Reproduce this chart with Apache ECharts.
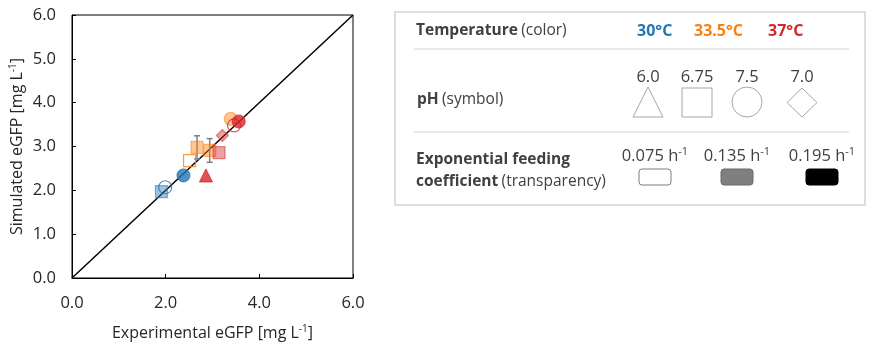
<!DOCTYPE html>
<html>
<head>
<meta charset="utf-8">
<script src="https://cdn.jsdelivr.net/npm/echarts@6/dist/echarts.min.js"></script>
<style>
  html, body { margin: 0; padding: 0; background: #fff; }
  #chart { width: 873px; height: 354px; }
</style>
</head>
<body>
<div id="chart"></div>
<script>
// data
const expX  = [1.99, 1.91, 2.38, 2.51, 2.67, 2.94, 3.14, 2.86, 3.21, 3.39, 3.46, 3.56];
const simY  = [2.07, 1.97, 2.34, 2.68, 2.98, 2.91, 2.86, 2.34, 3.25, 3.63, 3.48, 3.57];
const temps = ['30', '30', '30', '33.5', '33.5', '33.5', '37', '37', '37', '33.5', '37', '37'];
const pHs   = ['7.5', '6.75', '7.5', '6.75', '6.75', '6.75', '6.75', '6.0', '7.0', '7.5', '7.5', '7.5'];
const feeds = ['0.075', '0.135', '0.195', '0.075', '0.135', '0.135', '0.135', '0.195', '0.135', '0.135', '0.075', '0.195'];
const errs  = [null, null, null, null, 0.265, 0.27, null, null, null, null, null, null];

const xTicks = [0, 2, 4, 6];
const yTicks = [0, 1, 2, 3, 4, 5, 6];

const tempLabels = ['30°C', '33.5°C', '37°C'];
const phLabels = ['6.0', '6.75', '7.5', '7.0'];
const feedLabels = ['0.075', '0.135', '0.195'];

const tempColor = { '30': '#1f77b4', '33.5': '#ff7f0e', '37': '#d62728' };
const phSymbol = { '6.0': 'triangle', '6.75': 'rect', '7.5': 'circle', '7.0': 'diamond' };
const phSize = { '6.0': 13, '6.75': 12, '7.5': 13, '7.0': 12 };

const FONT = '"Open Sans", sans-serif';
const TXT = '#404040';
const AX = '#262626';

function fade(hex, a) {
    const n = parseInt(hex.slice(1), 16);
    return `rgba(${n >> 16},${(n >> 8) & 255},${n & 255},${a})`;
}

const points = expX.map((x, i) => {
    const c = tempColor[temps[i]];
    let style;
    if (feeds[i] === '0.075') style = { color: 'rgba(255,255,255,0)', borderColor: c, borderWidth: 1.2 };
    else if (feeds[i] === '0.135') style = { color: fade(c, 0.55), borderColor: fade(c, 0.65), borderWidth: 1.2 };
    else style = { color: c, borderColor: c, borderWidth: 1 };
    return {
        value: [x, simY[i]],
        symbol: phSymbol[pHs[i]],
        symbolSize: phSize[pHs[i]],
        itemStyle: style
    };
});

const errData = [];
errs.forEach((e, i) => { if (e != null) errData.push([expX[i], simY[i] - e, simY[i] + e]); });

const supRich = {
    n: { fontFamily: FONT, fontSize: 16, color: AX },
    s: { fontFamily: FONT, fontSize: 10, color: AX, padding: [0, 0, 8, 0] }
};

// legend box
const LX = 416;
const LF = 15.5;
const g = [];
g.push({ type: 'rect', shape: { x: 395, y: 12, width: 470, height: 193 }, style: { fill: '#fff', stroke: '#d4d4d4', lineWidth: 1.5 } });
g.push({ type: 'line', shape: { x1: 414, y1: 49, x2: 849, y2: 49 }, style: { stroke: '#d4d4d4', lineWidth: 1.2 } });
g.push({ type: 'line', shape: { x1: 414, y1: 132, x2: 849, y2: 132 }, style: { stroke: '#d4d4d4', lineWidth: 1.2 } });
const lr = {
    b: { fontFamily: FONT, fontSize: LF, fontWeight: 'bold', fill: TXT },
    n: { fontFamily: FONT, fontSize: LF, fill: TXT }
};
g.push({ type: 'text', x: LX, y: 31, style: { text: '{b|Temperature} {n|(color)}', verticalAlign: 'middle', rich: lr } });
const tempX = [637, 694, 768];
tempLabels.forEach((t, i) => {
    g.push({ type: 'text', x: tempX[i], y: 31, style: { text: t, fill: tempColor[temps[[0, 3, 6][i]]], font: 'bold 16px ' + FONT, verticalAlign: 'middle' } });
});
g.push({ type: 'text', x: LX + 1, y: 100, style: { text: '{b|pH} {n|(symbol)}', verticalAlign: 'middle', rich: lr } });
const phX = [648, 697, 747, 802];
phLabels.forEach((t, i) => {
    g.push({ type: 'text', x: phX[i], y: 77, style: { text: t, fill: TXT, font: '16.5px ' + FONT, align: 'center', verticalAlign: 'middle' } });
});
const symStyle = { fill: '#fff', stroke: '#a6a6a6', lineWidth: 1 };
g.push({ type: 'polygon', shape: { points: [[648, 87], [663, 117], [633, 117]] }, style: symStyle });
g.push({ type: 'rect', shape: { x: 682, y: 88, width: 30, height: 29 }, style: symStyle });
g.push({ type: 'circle', shape: { cx: 747, cy: 102, r: 15 }, style: symStyle });
g.push({ type: 'polygon', shape: { points: [[802, 88], [817, 102.5], [802, 117], [787, 102.5]] }, style: symStyle });
g.push({ type: 'text', x: LX, y: 160, style: { text: '{b|Exponential feeding}', verticalAlign: 'middle', rich: lr } });
g.push({ type: 'text', x: LX, y: 182, style: { text: '{b|coefficient} {n|(transparency)}', verticalAlign: 'middle', rich: lr } });
const feedX = [655, 737, 822];
const feedBox = [
    { fill: '#fff', stroke: '#7f7f7f' },
    { fill: '#7f7f7f', stroke: '#6a6a6a' },
    { fill: '#000', stroke: '#000' }
];
feedLabels.forEach((t, i) => {
    g.push({ type: 'text', x: feedX[i], y: 156, style: { text: '{n|' + t + ' h}{s|-1}', align: 'center', verticalAlign: 'middle',
        rich: { n: { fontFamily: FONT, fontSize: 16.5, fill: TXT }, s: { fontFamily: FONT, fontSize: 11, fill: TXT, padding: [0, 0, 9, 0] } } } });
    g.push({ type: 'rect', shape: { x: feedX[i] - 16, y: 169, width: 32, height: 16, r: 3 }, style: { fill: feedBox[i].fill, stroke: feedBox[i].stroke, lineWidth: 1 } });
});

const chart = echarts.init(document.getElementById('chart'));
chart.setOption({
    animation: false,
    grid: { left: 72, right: 520, top: 15, bottom: 76, show: true, borderColor: '#000', borderWidth: 1 },
    xAxis: {
        type: 'value', min: 0, max: 6, interval: 2,
        name: '{n|Experimental eGFP [mg L}{s|-1}{n|]}',
        nameLocation: 'middle', nameGap: 46,
        nameTextStyle: { rich: supRich },
        axisLine: { lineStyle: { color: '#000' } },
        axisTick: { show: true, inside: true, length: 4, lineStyle: { color: '#000' } },
        splitLine: { show: false },
        axisLabel: { fontFamily: FONT, fontSize: 16.5, color: AX, margin: 17, formatter: v => xTicks.includes(v) ? v.toFixed(1) : '' }
    },
    yAxis: {
        type: 'value', min: 0, max: 6, interval: 1,
        name: '{n|Simulated eGFP [mg L}{s|-1}{n|]}',
        nameLocation: 'middle', nameGap: 46,
        nameTextStyle: { rich: supRich },
        axisLine: { lineStyle: { color: '#000' } },
        axisTick: { show: true, inside: true, length: 4, lineStyle: { color: '#000' } },
        splitLine: { show: false },
        axisLabel: { fontFamily: FONT, fontSize: 16.5, color: AX, margin: 16, formatter: v => yTicks.includes(v) ? v.toFixed(1) : '' }
    },
    series: [
        {
            type: 'line', data: [[0, 0], [6, 6]], symbol: 'none', z: 1,
            lineStyle: { color: '#000', width: 1.5 }
        },
        {
            type: 'custom', z: 2, data: errData,
            renderItem: (params, api) => {
                const top = api.coord([api.value(0), api.value(2)]);
                const bot = api.coord([api.value(0), api.value(1)]);
                const st = { stroke: '#7f7f7f', lineWidth: 1.5 };
                return {
                    type: 'group', children: [
                        { type: 'line', shape: { x1: top[0], y1: top[1], x2: bot[0], y2: bot[1] }, style: st },
                        { type: 'line', shape: { x1: top[0] - 3, y1: top[1], x2: top[0] + 3, y2: top[1] }, style: st },
                        { type: 'line', shape: { x1: bot[0] - 3, y1: bot[1], x2: bot[0] + 3, y2: bot[1] }, style: st }
                    ]
                };
            }
        },
        { type: 'scatter', z: 3, data: points }
    ],
    graphic: g
});
</script>
</body>
</html>
